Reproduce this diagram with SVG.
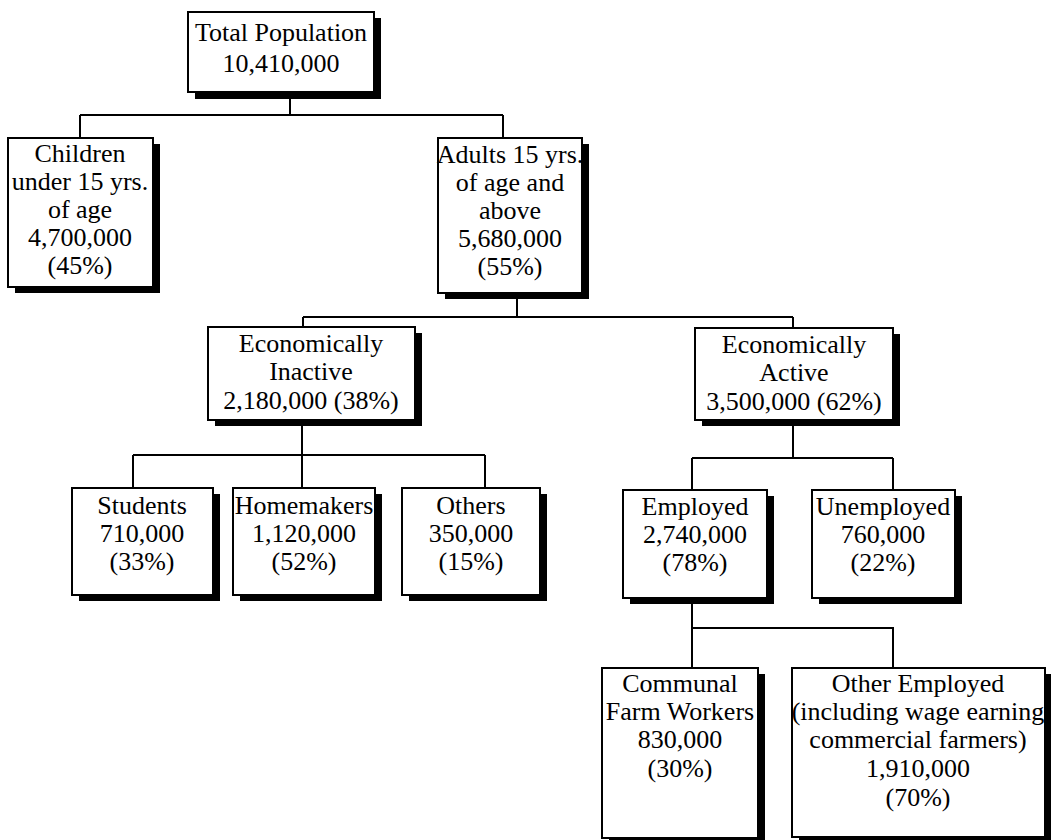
<svg xmlns="http://www.w3.org/2000/svg" width="1051" height="840" viewBox="0 0 1051 840">
  <style>
    .shadow { fill: #000; }
    .box { fill: #fff; stroke: #000; stroke-width: 2; }
    .lbl { font-family: "Liberation Serif", "Times New Roman", serif; font-size: 26px; fill: #000; text-anchor: middle; }
    .conn { fill: none; stroke: #000; stroke-width: 2; }
  </style>
  <rect width="1051" height="840" fill="#fff"/>

  <!-- connectors -->
  <g id="connectors" class="conn">
    <path d="M290 92 V115 M80 115 H503 M80 115 V138 M503 115 V138"/>
    <path d="M517 293 V317 M303 317 H793 M303 317 V327 M793 317 V328"/>
    <path d="M302 420 V455 M133 455 H485 M133 455 V488 M302 455 V488 M485 455 V488"/>
    <path d="M793 420 V458 M692 458 H893 M692 458 V490 M893 458 V490"/>
    <path d="M692 598 V668 M692 628 H893 V668"/>
  </g>

  <g id="total">
    <rect class="shadow" x="195" y="18" width="186" height="81"/>
    <rect class="box" x="188" y="12" width="186" height="80"/>
    <text class="lbl" x="281" y="41" font-size="27">Total Population</text>
    <text class="lbl" x="281" y="72" font-size="27">10,410,000</text>
  </g>

  <g id="children">
    <rect class="shadow" x="15" y="144" width="145" height="149"/>
    <rect class="box" x="8" y="138" width="145" height="149"/>
    <text class="lbl" x="80" y="162">Children</text>
    <text class="lbl" x="80" y="190">under 15 yrs.</text>
    <text class="lbl" x="80" y="218">of age</text>
    <text class="lbl" x="80" y="246">4,700,000</text>
    <text class="lbl" x="80" y="274">(45%)</text>
  </g>

  <g id="adults">
    <rect class="shadow" x="445" y="144" width="144" height="155"/>
    <rect class="box" x="438" y="138" width="144" height="155"/>
    <text class="lbl" x="510" y="163">Adults 15 yrs.</text>
    <text class="lbl" x="510" y="191">of age and</text>
    <text class="lbl" x="510" y="219">above</text>
    <text class="lbl" x="510" y="247">5,680,000</text>
    <text class="lbl" x="510" y="275">(55%)</text>
  </g>

  <g id="inactive">
    <rect class="shadow" x="215" y="333" width="207" height="93"/>
    <rect class="box" x="208" y="327" width="207" height="93"/>
    <text class="lbl" x="311" y="352">Economically</text>
    <text class="lbl" x="311" y="380">Inactive</text>
    <text class="lbl" x="311" y="409">2,180,000 (38%)</text>
  </g>

  <g id="active">
    <rect class="shadow" x="702" y="334" width="198" height="92"/>
    <rect class="box" x="695" y="328" width="198" height="92"/>
    <text class="lbl" x="794" y="353">Economically</text>
    <text class="lbl" x="794" y="381">Active</text>
    <text class="lbl" x="794" y="410">3,500,000 (62%)</text>
  </g>

  <g id="students">
    <rect class="shadow" x="79" y="494" width="141" height="107"/>
    <rect class="box" x="72" y="488" width="141" height="107"/>
    <text class="lbl" x="142" y="514">Students</text>
    <text class="lbl" x="142" y="542">710,000</text>
    <text class="lbl" x="142" y="570">(33%)</text>
  </g>

  <g id="homemakers">
    <rect class="shadow" x="240" y="494" width="142" height="107"/>
    <rect class="box" x="233" y="488" width="142" height="107"/>
    <text class="lbl" x="304" y="514">Homemakers</text>
    <text class="lbl" x="304" y="542">1,120,000</text>
    <text class="lbl" x="304" y="570">(52%)</text>
  </g>

  <g id="others">
    <rect class="shadow" x="409" y="494" width="138" height="107"/>
    <rect class="box" x="402" y="488" width="138" height="107"/>
    <text class="lbl" x="471" y="514">Others</text>
    <text class="lbl" x="471" y="542">350,000</text>
    <text class="lbl" x="471" y="570">(15%)</text>
  </g>

  <g id="employed">
    <rect class="shadow" x="630" y="496" width="144" height="108"/>
    <rect class="box" x="623" y="490" width="144" height="108"/>
    <text class="lbl" x="695" y="515">Employed</text>
    <text class="lbl" x="695" y="543">2,740,000</text>
    <text class="lbl" x="695" y="571">(78%)</text>
  </g>

  <g id="unemployed">
    <rect class="shadow" x="819" y="496" width="143" height="108"/>
    <rect class="box" x="812" y="490" width="143" height="108"/>
    <text class="lbl" x="883" y="515">Unemployed</text>
    <text class="lbl" x="883" y="543">760,000</text>
    <text class="lbl" x="883" y="571">(22%)</text>
  </g>

  <g id="communal">
    <rect class="shadow" x="609" y="674" width="156" height="170"/>
    <rect class="box" x="602" y="668" width="156" height="170"/>
    <text class="lbl" x="680" y="692">Communal</text>
    <text class="lbl" x="680" y="720">Farm Workers</text>
    <text class="lbl" x="680" y="748">830,000</text>
    <text class="lbl" x="680" y="777">(30%)</text>
  </g>

  <g id="other-employed">
    <rect class="shadow" x="799" y="674" width="253" height="169"/>
    <rect class="box" x="792" y="668" width="253" height="169"/>
    <text class="lbl" x="918" y="692">Other Employed</text>
    <text class="lbl" x="918" y="720">(including wage earning</text>
    <text class="lbl" x="918" y="748">commercial farmers)</text>
    <text class="lbl" x="918" y="777">1,910,000</text>
    <text class="lbl" x="918" y="806">(70%)</text>
  </g>
</svg>
